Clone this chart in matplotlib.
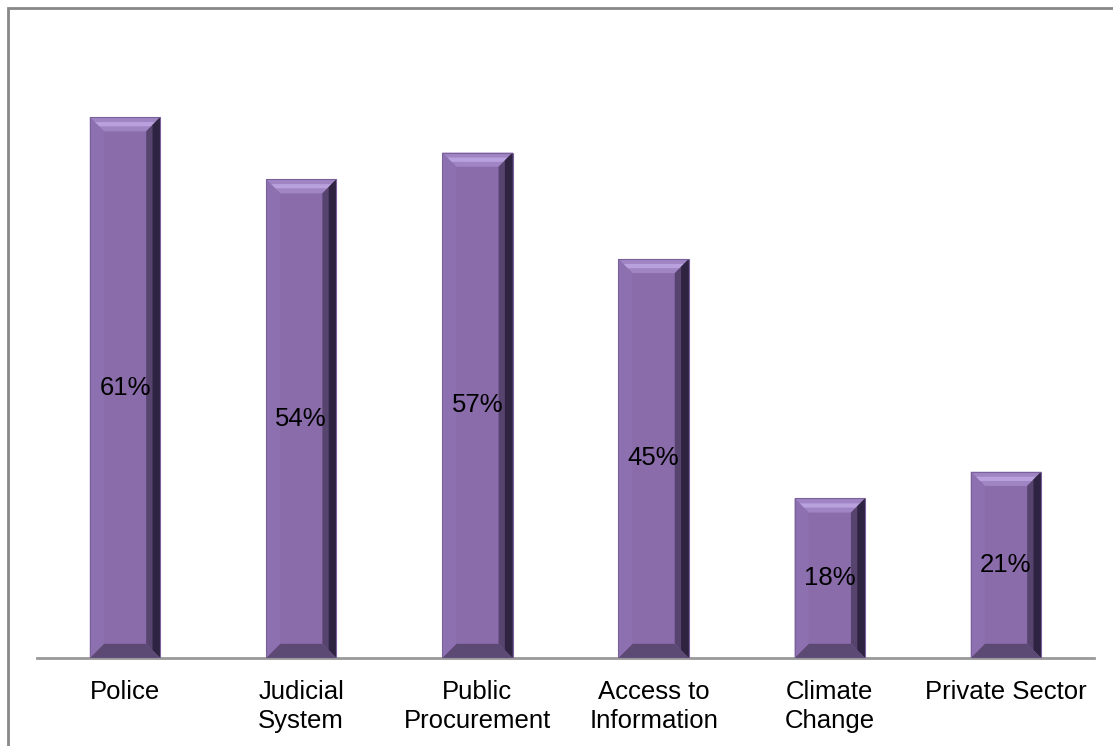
import matplotlib.pyplot as plt
from matplotlib.patches import Polygon, Rectangle

plt.rcParams['font.family'] = ['Liberation Sans', 'DejaVu Sans']

# Data
categories = ['Police', 'Judicial\nSystem', 'Public\nProcurement',
              'Access to\nInformation', 'Climate\nChange', 'Private Sector']
values = [61, 54, 57, 45, 18, 21]
labels = ['61%', '54%', '57%', '45%', '18%', '21%']

fig = plt.figure(figsize=(11.13, 7.46), dpi=100)
ax = fig.add_axes([0.0332, 0.118, 0.9498, 0.832])

width = 0.4
bars = ax.bar(range(len(values)), values, width=width, color='#8a6cab', zorder=2)

# bevel look on each bar
bx = 0.08   # bevel depth in x (data units)
by = 1.6    # bevel depth in y (data units)
for b in bars:
    x0, x1 = b.get_x(), b.get_x() + b.get_width()
    y0, y1 = 0, b.get_height()
    # top
    ax.add_patch(Polygon([(x0, y1), (x1, y1), (x1 - bx, y1 - by), (x0 + bx, y1 - by)],
                         closed=True, color='#9f85c3', lw=0, zorder=3))
    ax.add_patch(Polygon([(x0 + bx * 0.35, y1 - by * 0.35), (x1 - bx * 0.35, y1 - by * 0.35),
                          (x1 - bx * 0.65, y1 - by * 0.65), (x0 + bx * 0.65, y1 - by * 0.65)],
                         closed=True, color='#b8a1dc', lw=0, zorder=3))
    # right
    ax.add_patch(Polygon([(x1, y1), (x1, y0), (x1 - bx, y0 + by), (x1 - bx, y1 - by)],
                         closed=True, color='#56446f', lw=0, zorder=3))
    ax.add_patch(Polygon([(x1 - bx * 0.55, y1 - by * 0.55), (x1 - bx * 0.55, y0 + by * 0.55),
                          (x1, y0), (x1, y1)],
                         closed=True, color='#2e2340', lw=0, zorder=3))
    # bottom
    ax.add_patch(Polygon([(x0, y0), (x1, y0), (x1 - bx, y0 + by), (x0 + bx, y0 + by)],
                         closed=True, color='#5c4a75', lw=0, zorder=3))
    # left
    ax.add_patch(Polygon([(x0, y0), (x0, y1), (x0 + bx, y1 - by), (x0 + bx, y0 + by)],
                         closed=True, color='#8d70b0', lw=0, zorder=3))
    ax.add_patch(Rectangle((x0, y0), x1 - x0, y1 - y0, fill=False,
                           ec='#7a619c', lw=0.8, zorder=4))

for i, (v, t) in enumerate(zip(values, labels)):
    ax.text(i, v / 2, t, ha='center', va='center', fontsize=18.5, color='black', zorder=5)

ax.set_xlim(-0.5, len(values) - 0.5)
ax.set_ylim(0, 70)
ax.set_xticks(range(len(values)))
ax.set_xticklabels(categories, fontsize=18.5, linespacing=1.25)
ax.tick_params(axis='x', length=0, pad=16)
ax.set_yticks([])
for s in ['top', 'right', 'left']:
    ax.spines[s].set_visible(False)
ax.spines['bottom'].set_color('#999999')
ax.spines['bottom'].set_linewidth(2)

# outer chart frame (cut off at right and bottom)
fig.add_artist(Rectangle((8 / 1113, -0.1), 1.2, 1 - 8 / 746 + 0.1, transform=fig.transFigure,
                         fill=False, ec='#888888', lw=2))

fig.savefig('out.png', dpi=100)
